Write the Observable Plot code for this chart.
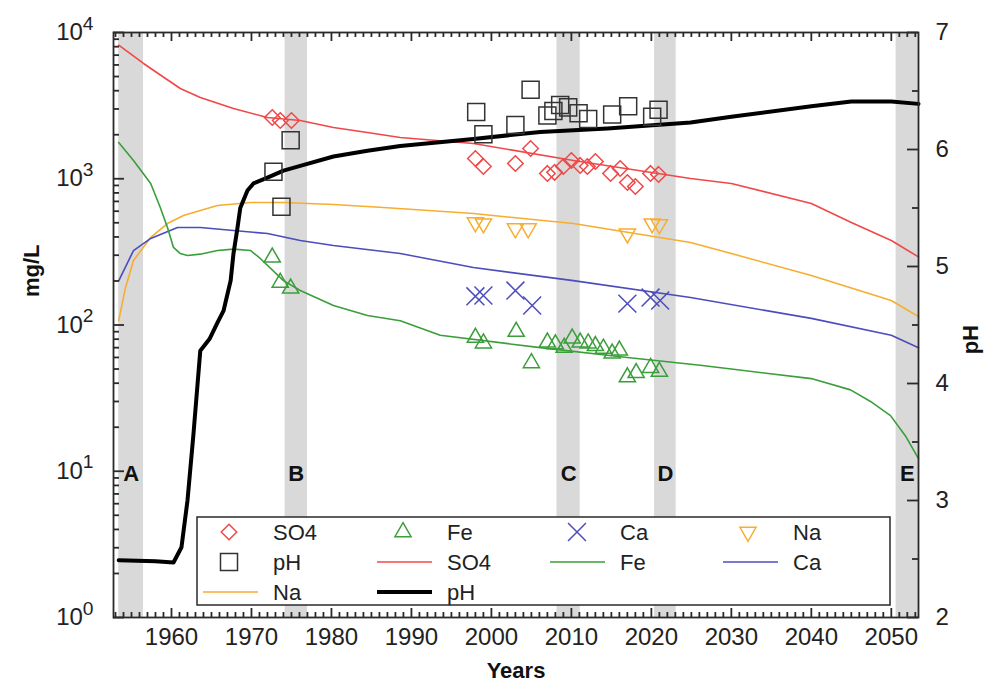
<!DOCTYPE html>
<html><head><meta charset="utf-8">
<script src="https://cdn.jsdelivr.net/npm/d3@7"></script>
<script src="https://cdn.jsdelivr.net/npm/@observablehq/plot@0.6"></script>
<style>
body{margin:0;background:#fff;}
#chart{position:relative;width:984px;height:688px;}
</style></head><body><div id="chart"></div>
<script>
// ---------- data ----------
// modelled concentration lines [year, mg/L]
const so4Line = [[1953.4,8200],[1956.5,6140],[1961.1,4140],[1963.6,3590],[1967.75,3020],[1972,2620],[1976.1,2500],[1980.25,2240],[1984.5,2070],[1988.6,1915],[1997.75,1740],[2010.25,1333],[2024.9,1005],[2030,928],[2040,677],[2045,502],[2050,378],[2053.4,292]];
const naLine = [[1953.4,107],[1954.25,180],[1955.25,276],[1957.4,397],[1959.5,494],[1961.5,561],[1963.6,607],[1965.75,656],[1969.9,688],[1974,688],[1980.25,667],[1986.5,636],[1997.75,578],[2010.25,494],[2024.9,367],[2030,308],[2040,218],[2050,147],[2053.4,114]];
const caLine = [[1953.4,200],[1955.25,323],[1957.4,391],[1960.75,464],[1963.6,464],[1967.75,443],[1972,422],[1976.1,378],[1980.25,350],[1988.6,308],[1997.75,247],[2010.25,201],[2024.9,154],[2040,111],[2050,85],[2053.4,70]];
const feLine = [[1953.4,1770],[1955.25,1333],[1957.4,928],[1958.6,636],[1959.5,464],[1960.25,339],[1961.1,308],[1962,299],[1963.6,305],[1965.75,323],[1967.75,330],[1969.9,323],[1971.1,285],[1974,201],[1976.1,172],[1980.25,136],[1984.5,116],[1988.6,107],[1993.6,85],[2006.1,70],[2017,60],[2026.1,53],[2030,50],[2040,43],[2044.9,36],[2047.4,30],[2049.9,24],[2051.75,17.5],[2053.4,12.2]];
// modelled pH line [year, pH]
const phLine = [[1953.4,2.49],[1958,2.48],[1960.25,2.47],[1961.25,2.6],[1962,3.0],[1962.75,3.57],[1963.6,4.28],[1964.75,4.38],[1965.75,4.52],[1966.5,4.62],[1967.4,4.88],[1967.75,5.11],[1968.25,5.33],[1968.6,5.5],[1969.5,5.65],[1970.25,5.71],[1972,5.76],[1974,5.82],[1976.1,5.86],[1980.25,5.94],[1984.5,5.99],[1988.6,6.03],[1997.75,6.09],[2006.1,6.15],[2014.5,6.18],[2024.9,6.23],[2030,6.28],[2040,6.37],[2045,6.41],[2050,6.41],[2053.4,6.39]];
// observations
const so4Obs = [[1972.6,2624],[1973.6,2503],[1975,2503],[1998,1375],[1999,1213],[2003,1271],[2004.9,1610],[2007,1087],[2007.9,1106],[2009,1213],[2010,1333],[2011.1,1233],[2012,1213],[2013,1312],[2014.9,1087],[2016.1,1175],[2017,943],[2018,885],[2019.9,1087],[2020.9,1070]];
const phObs = [[1972.75,5.81],[1973.75,5.51],[1974.9,6.08],[1998.1,6.32],[1999,6.13],[2003,6.21],[2004.9,6.51],[2007,6.29],[2007.75,6.33],[2008.6,6.38],[2009.6,6.36],[2010.9,6.31],[2012.1,6.26],[2015.1,6.3],[2017.1,6.37],[2020.1,6.28],[2020.9,6.34]];
const feObs = [[1972.6,290],[1973.6,195],[1974.9,178],[1998,82],[1999,75],[2003.1,90],[2005,55],[2007,76],[2008,74],[2009.1,70],[2010.1,81],[2011.1,76],[2012.1,75],[2013,72],[2014,69],[2015.1,64],[2016,67],[2017,44],[2018.1,47],[2019.9,51],[2021,48]];
const caObs = [[1998,157],[1999,159],[2003,172],[2005.1,136],[2017,140],[2019.9,154],[2021.1,147]];
const naObs = [[1998,502],[1999,494],[2003,457],[2004.6,457],[2017,422],[2020.1,494],[2021,487]];
// periods
const bands = [{x1:1953.4,x2:1956.5,label:"A"},{x1:1974.2,x2:1977,label:"B"},{x1:2008.2,x2:2011.1,label:"C"},{x1:2020.4,x2:2023.1,label:"D"},{x1:2050.6,x2:2053.4,label:"E"}];
// ticks
const xMajor = d3.range(1960, 2051, 10);
const xMinor = d3.range(1953, 2054).filter(y => y % 10 !== 0);
const yMajor = [1, 10, 100, 1000, 10000];
const yMinor = [1, 10, 100, 1000].flatMap(d => d3.range(2, 10).map(k => k * d));
const phMajor = [2, 3, 4, 5, 6, 7];
const phMinor = [2.5, 3.5, 4.5, 5.5, 6.5];

// ---------- helpers ----------
const toY = p => Math.pow(10, (p - 2) * 0.8);   // pH -> position on the mg/L log axis
const C = {so4:"#f04848", fe:"#3a9e3a", ca:"#4c4cbc", na:"#f7ad2f", ph:"#000", obsPh:"#333", band:"#d9d9d9", axis:"#2a2a2a"};
const W = 984, H = 688, mL = 113, mR = 66, mT = 32, mB = 71;
const FW = W - mL - mR, FH = H - mT - mB;

const X = d => d[0], Yv = d => d[1], Yp = d => toY(d[1]);
const id = d => d;
const tk = {stroke: C.axis, strokeWidth: 1.8};
// inward frame ticks drawn as partial tick marks
const xTicks = (data, len) => [
  Plot.tickX(data, {x: id, insetTop: FH - len, ...tk}),
  Plot.tickX(data, {x: id, insetBottom: FH - len, ...tk})
];
const yTicks = (data, len, acc, side) => Plot.tickY(data, {y: acc, ...(side === "left" ? {insetRight: FW - len} : {insetLeft: FW - len}), ...tk});

const plot = Plot.plot({
  width: W, height: H,
  marginLeft: mL, marginRight: mR, marginTop: mT, marginBottom: mB,
  style: {fontFamily: "'Liberation Sans', Arial, sans-serif", fontSize: "24px", color: "#222", background: "#fff"},
  x: {domain: [1952.75, 2053.4]},
  y: {type: "log", domain: [1, 10000]},
  marks: [
    Plot.rect(bands, {x1: "x1", x2: "x2", fill: C.band}),
    Plot.text(bands, {x: d => (d.x1 + d.x2) / 2, text: "label", frameAnchor: "bottom", dy: -137, fontWeight: "bold", fontSize: 22, fill: "#111"}),
    Plot.line(so4Line, {x: X, y: Yv, stroke: C.so4, strokeWidth: 1.6}),
    Plot.line(naLine, {x: X, y: Yv, stroke: C.na, strokeWidth: 1.6}),
    Plot.line(caLine, {x: X, y: Yv, stroke: C.ca, strokeWidth: 1.6}),
    Plot.line(feLine, {x: X, y: Yv, stroke: C.fe, strokeWidth: 1.6}),
    Plot.line(phLine, {x: X, y: Yp, stroke: C.ph, strokeWidth: 4}),
    Plot.dot(so4Obs, {x: X, y: Yv, symbol: "diamond2", r: 7, stroke: C.so4, strokeWidth: 1.5, fill: "none"}),
    Plot.dot(feObs, {x: X, y: Yv, symbol: "triangle", r: 6, stroke: C.fe, strokeWidth: 1.5, fill: "none"}),
    Plot.dot(caObs, {x: X, y: Yv, symbol: "times", r: 8.2, stroke: C.ca, strokeWidth: 1.5, fill: "none"}),
    Plot.dot(naObs, {x: X, y: Yv, symbol: "triangle", rotate: 180, r: 6, stroke: C.na, strokeWidth: 1.5, fill: "none"}),
    Plot.dot(phObs, {x: X, y: Yp, symbol: "square", r: 9.6, stroke: C.obsPh, strokeWidth: 1.5, fill: "none"}),
    // inward ticks on all four sides
    ...xTicks(xMajor, 9), ...xTicks(xMinor, 5),
    yTicks(yMajor, 11, id, "left"), yTicks(yMinor, 6, id, "left"),
    yTicks(phMajor, 11, toY, "right"), yTicks(phMinor, 6, toY, "right"),
    // tick labels
    Plot.axisX(xMajor, {anchor: "bottom", tickSize: 0, tickPadding: 10, tickFormat: d => String(d), label: null, fill: "#222", fontSize: 24}),
    Plot.axisY(yMajor, {anchor: "left", tickSize: 0, tickPadding: 20, tickFormat: d => "10^" + Math.round(Math.log10(d)), label: null, fill: "#222", fontSize: 24}),
    Plot.text(phMajor, {y: toY, text: d => String(d), frameAnchor: "right", dx: 17, textAnchor: "start", fill: "#222", fontSize: 24}),
    // axis titles
    Plot.text(["Years"], {frameAnchor: "bottom", dy: 60, fontWeight: "bold", fontSize: 22, fill: "#111"}),
    Plot.text(["mg/L"], {frameAnchor: "left", dx: -82, dy: -28, rotate: -90, fontWeight: "bold", fontSize: 22, fill: "#111"}),
    Plot.text(["pH"], {frameAnchor: "right", dx: 52, rotate: -90, fontWeight: "bold", fontSize: 22, fill: "#111"}),
    Plot.frame({stroke: C.axis, strokeWidth: 1.8})
  ]
});

// superscript exponents on the log axis labels
d3.select(plot).selectAll("text").each(function() {
  const m = /^10\^(\d+)$/.exec(this.textContent);
  if (m) {
    const sel = d3.select(this);
    sel.text("");
    sel.append("tspan").text("10");
    sel.append("tspan").attr("dy", "-0.55em").attr("font-size", "0.8em").text(m[1]);
  }
});

// ---------- legend (inside the frame) ----------
const sym = (name) => ({diamond2: d3.symbolDiamond2, triangle: d3.symbolTriangle, times: d3.symbolTimes, square: d3.symbolSquare}[name]);
const legendItems = [
  {kind:"dot", symbol:"diamond2", r:7, color:C.so4, label:"SO4", col:0, row:0},
  {kind:"dot", symbol:"triangle", r:6, color:C.fe, label:"Fe", col:1, row:0},
  {kind:"dot", symbol:"times", r:8.2, color:C.ca, label:"Ca", col:2, row:0},
  {kind:"dot", symbol:"triangle", r:6, rotate:180, color:C.na, label:"Na", col:3, row:0},
  {kind:"dot", symbol:"square", r:9.6, color:C.obsPh, label:"pH", col:0, row:1},
  {kind:"line", w:1.6, color:C.so4, label:"SO4", col:1, row:1},
  {kind:"line", w:1.6, color:C.fe, label:"Fe", col:2, row:1},
  {kind:"line", w:1.6, color:C.ca, label:"Ca", col:3, row:1},
  {kind:"line", w:1.6, color:C.na, label:"Na", col:0, row:2},
  {kind:"line", w:4, color:C.ph, label:"pH", col:1, row:2}
];
const colSym = [229, 403, 577, 748], colText = [273, 447, 620, 793], rowY = [532, 562, 592];
const svg = d3.select(plot);
const lg = svg.append("g").attr("font-family", "'Liberation Sans', Arial, sans-serif").attr("font-size", 22).attr("text-anchor", "start");
lg.append("rect").attr("x", 197).attr("y", 517).attr("width", 693).attr("height", 88)
  .attr("fill", "#fff").attr("stroke", C.axis).attr("stroke-width", 1.5);
for (const it of legendItems) {
  const cx = colSym[it.col], cy = rowY[it.row];
  if (it.kind === "dot") {
    lg.append("path").attr("d", d3.symbol(sym(it.symbol), Math.PI * it.r * it.r)())
      .attr("transform", `translate(${cx},${cy})` + (it.rotate ? ` rotate(${it.rotate})` : ""))
      .attr("fill", "none").attr("stroke", it.color).attr("stroke-width", 1.5);
  } else {
    const x0 = it.col === 0 ? 203 : colText[it.col] - 70;
    lg.append("line").attr("x1", x0).attr("x2", x0 + 55).attr("y1", cy).attr("y2", cy)
      .attr("stroke", it.color).attr("stroke-width", it.w);
  }
  lg.append("text").attr("x", colText[it.col]).attr("y", cy + 8).attr("fill", "#222").text(it.label);
}

document.getElementById("chart").appendChild(plot);
</script>
</body></html>
